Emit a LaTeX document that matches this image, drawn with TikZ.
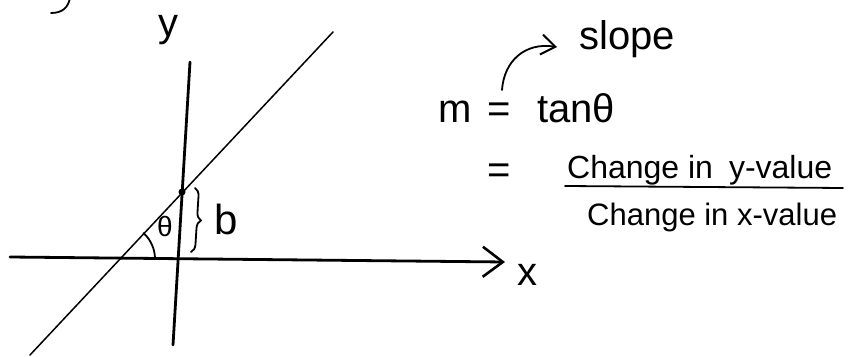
\documentclass[tikz,border=0pt]{standalone}
\usepackage{fontspec}
\setmainfont{Liberation Sans}
\usetikzlibrary{arrows.meta,decorations.pathreplacing}
\begin{document}
\begin{tikzpicture}[x=1pt,y=1pt,
  axisline/.style={line width=2.8pt, line cap=round},
  slant/.style={line width=1.5pt, line cap=round},
  hand/.style={line width=1.8pt, line cap=round},
  lbl/.style={inner sep=0pt, anchor=base},
  bigbarb/.style={-{Straight Barb[length=20pt,width=30pt,line width=2.6pt]}},
  smallbarb/.style={-{Straight Barb[length=14pt,width=20pt,line width=2pt]}}
]
\useasboundingbox (0,0) rectangle (867,356);
\clip (0,0) rectangle (867,356);
\fill[white] (0,0) rectangle (867,356);

% cut-off letter stroke at the top edge
\draw[hand] (70,358) .. controls (68,348) and (62,343) .. (51,343);
\node[lbl, font=\fontsize{40}{40}\selectfont] (ylab) at (168,319) {y};

% axes
\coordinate (hxl) at (10,99);
\coordinate (hxr) at (505,94);
\coordinate (vt) at (190,294);
\coordinate (vb) at (173,11);
\draw[axisline, bigbarb] (hxl) -- (hxr);
\draw[axisline] (vt) -- (vb);
\node[lbl, font=\fontsize{40}{40}\selectfont] (xlab) at (527,70) {x};

% line
\coordinate (db) at (30,1);
\coordinate (dt) at (333,324);
\draw[slant] (db) -- (dt);
\coordinate (icpt) at (182,164);
\fill (icpt) circle (3.5pt);

% angle
\coordinate (ang0) at (155,97);
\draw[hand] (ang0) arc[start angle=0, end angle=48, radius=35];
\node[lbl, font=\fontsize{28}{28}\selectfont] (th) at (165,119) {θ};

% brace and b
\coordinate (brt) at (195,168);
\coordinate (brb) at (191,104);
\draw[hand, decorate, decoration={brace, amplitude=8pt}] (brt) -- (brb);
\node[lbl, font=\fontsize{42}{42}\selectfont] (blab) at (226,121) {b};

% right side
\node[lbl, font=\fontsize{40}{40}\selectfont] (slope) at (627,306) {slope};
\coordinate (arrs) at (502,266);
\draw[hand, smallbarb] (arrs) .. controls (504,295) and (525,314) .. (557,309);

\node[lbl, font=\fontsize{40}{40}\selectfont] (m) at (455,233) {m};
\node[lbl, font=\fontsize{40}{40}\selectfont] (eq1) at (499,233) {=};
\node[lbl, font=\fontsize{40}{40}\selectfont, anchor=base west] (tan) at (537,233) {tanθ};

\node[lbl, font=\fontsize{40}{40}\selectfont] (eq2) at (499,172) {=};
\node[lbl, font=\fontsize{32}{32}\selectfont, anchor=base west] (num) at (567,177) {Change in\enspace y-value};
\coordinate (fl) at (565,170);
\coordinate (fr) at (843,168);
\draw[hand] (fl) -- (fr);
\node[lbl, font=\fontsize{31}{31}\selectfont, anchor=base west] (den) at (587,130) {Change in x-value};
\end{tikzpicture}
\end{document}
